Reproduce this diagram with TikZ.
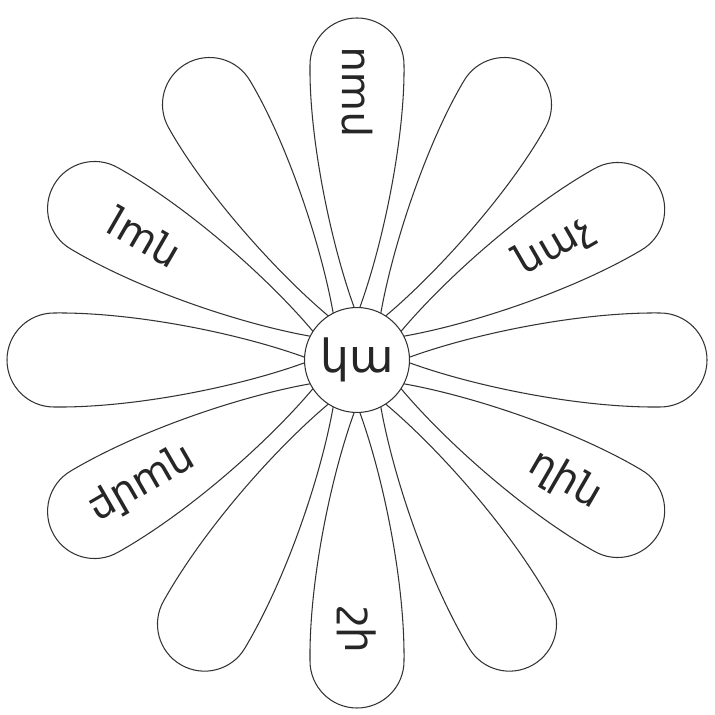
\documentclass[tikz,border=0pt]{standalone}
\usepackage{fontspec}
\newfontfamily\armfont{DejaVu Sans}

\begin{document}
\begin{tikzpicture}[x=0.02cm,y=0.02cm,
  petal/.style={draw=black!80,line width=0.6pt},
  word/.style={font=\armfont\fontsize{23}{26}\selectfont,inner sep=0pt,text=black!85}]
  \useasboundingbox[fill=white] (-357,-355) rectangle (358,360);
  % twelve petals, angle / length
  \foreach \a/\l in {0/350,30/348,60/342,90/342,120/342,150/350,180/350,210/350,240/352,270/348,300/352,330/348}
    \draw[petal,rotate=\a] (45,0) .. controls (110,25) and (220,48) .. (\l-47,47)
      .. controls (\l-21,47) and (\l,26) .. (\l,0)
      .. controls (\l,-26) and (\l-21,-47) .. (\l-47,-47)
      .. controls (220,-48) and (110,-25) .. (45,0) -- cycle;
  % the middle
  \node[circle,draw=black!80,line width=0.6pt,fill=white,minimum size=2.1cm,
        word,font=\armfont\fontsize{26}{30}\selectfont] (hub) at (0,0) {կա};
  % syllables
  \node[word,rotate=30]  (w30)  at (30:228)  {նաչ};
  \node[word,rotate=90]  (w90)  at (90:268)  {րաս};
  \node[word,rotate=150] (w150) at (150:245) {ղալ};
  \node[word,rotate=210] (w210) at (210:248) {ղամբ};
  \node[word,rotate=270] (w270) at (270:270) {շի};
  \node[word,rotate=330] (w330) at (330:240) {ղին};
\end{tikzpicture}
\end{document}
